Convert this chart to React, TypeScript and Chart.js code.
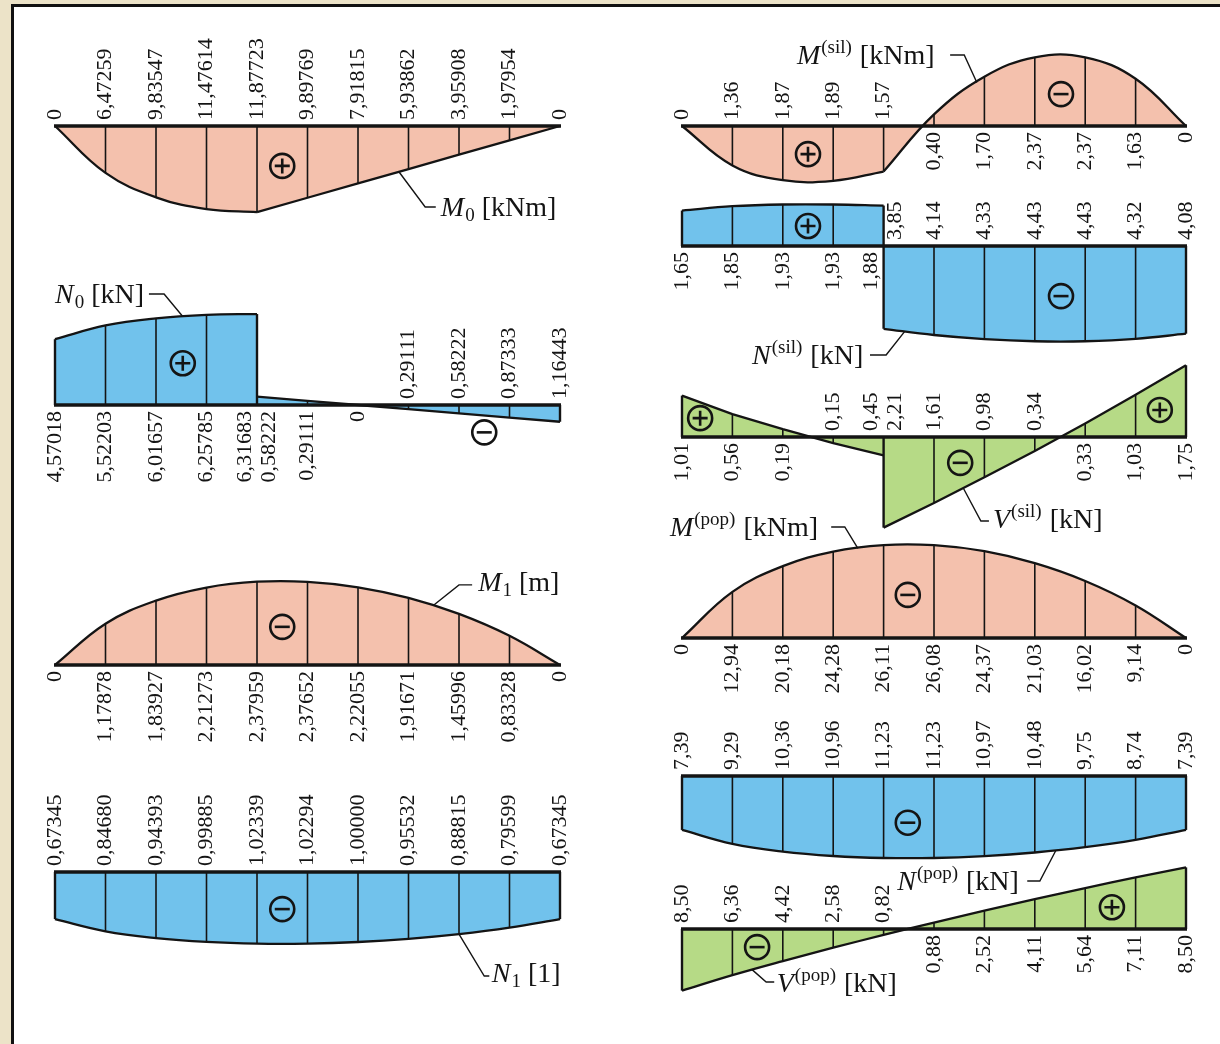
import React, { useEffect, useRef } from "react";
import { Chart, registerables } from "chart.js";

Chart.register(...registerables);

const W = 1220;
const H = 1044;

// ---------------- data ----------------
const STATIONS = [0, 1, 2, 3, 4, 5, 6, 7, 8, 9, 10];

// left column (5 decimals)
const M0_VALUES = [0, 6.47259, 9.83547, 11.47614, 11.87723, 9.89769, 7.91815, 5.93862, 3.95908, 1.97954, 0];
const N0_LEFT = [4.57018, 5.52203, 6.01657, 6.25785, 6.31683];
const N0_RIGHT = [0.58222, 0.29111, 0, -0.29111, -0.58222, -0.87333, -1.16443];
const M1_VALUES = [0, -1.17878, -1.83927, -2.21273, -2.37959, -2.37652, -2.22055, -1.91671, -1.45996, -0.83328, 0];
const N1_VALUES = [-0.67345, -0.8468, -0.94393, -0.99885, -1.02339, -1.02294, -1.0, -0.95532, -0.88815, -0.79599, -0.67345];

// right column (2 decimals)
const MSIL_VALUES = [0, 1.36, 1.87, 1.89, 1.57, -0.4, -1.7, -2.37, -2.37, -1.63, 0];
const NSIL_LEFT = [1.65, 1.85, 1.93, 1.93, 1.88];
const NSIL_RIGHT = [-3.85, -4.14, -4.33, -4.43, -4.43, -4.32, -4.08];
const VSIL_LEFT = [1.01, 0.56, 0.19, -0.15, -0.45];
const VSIL_RIGHT = [-2.21, -1.61, -0.98, -0.34, 0.33, 1.03, 1.75];
const MPOP_VALUES = [0, -12.94, -20.18, -24.28, -26.11, -26.08, -24.37, -21.03, -16.02, -9.14, 0];
const NPOP_VALUES = [-7.39, -9.29, -10.36, -10.96, -11.23, -11.23, -10.97, -10.48, -9.75, -8.74, -7.39];
const VPOP_VALUES = [-8.5, -6.36, -4.42, -2.58, -0.82, 0.88, 2.52, 4.11, 5.64, 7.11, 8.5];

// sign markers: [station, value, sign]
type Sign = [number, number, "+" | "-"];
const M0_SIGNS: Sign[] = [[4.5, 5.5, "+"]];
const N0_SIGNS: Sign[] = [[2.53, 2.9, "+"], [8.5, -1.9, "-"]];
const M1_SIGNS: Sign[] = [[4.5, -1.09, "-"]];
const N1_SIGNS: Sign[] = [[4.5, -0.53, "-"]];
const MSIL_SIGNS: Sign[] = [[2.5, 0.97, "+"], [7.52, -1.1, "-"]];
const NSIL_SIGNS: Sign[] = [[2.5, 0.93, "+"], [7.52, -2.33, "-"]];
const VSIL_SIGNS: Sign[] = [[0.36, 0.46, "+"], [5.52, -0.63, "-"], [9.48, 0.66, "+"]];
const MPOP_SIGNS: Sign[] = [[4.48, -12.1, "-"]];
const NPOP_SIGNS: Sign[] = [[4.48, -6.4, "-"]];
const VPOP_SIGNS: Sign[] = [[1.49, -2.5, "-"], [8.53, 3.0, "+"]];

// ---------------- styling / layout ----------------
const SERIF = '"Liberation Serif", "Times New Roman", serif';
const INK = "#141414";
const PINK = "#F4C1AD";
const BLUE = "#71C2EC";
const GREEN = "#B6DA86";
const BEIGE = "#ECE3C8";

const COLUMNS = { L: { x0: 55, dx: 50.5 }, R: { x0: 682, dx: 50.4 } };

type Part = { t: string; k?: "it" | "sub" | "sup" };
type Seg = { start: number; values: number[]; curve: boolean };
type Diagram = {
  id: string;
  col: "L" | "R";
  baseline: number;
  k: number;
  reverse: boolean;
  color: string;
  decimals: number;
  segs: Seg[];
  signs: Sign[];
  title: Part[];
  titleAt: [number, number];
  leader: [number, number][];
};

const DIAGRAMS: Diagram[] = [
  {
    id: "m0", col: "L", baseline: 126, k: 7.25, reverse: true, color: PINK, decimals: 5,
    segs: [
      { start: 0, values: M0_VALUES.slice(0, 5), curve: true },
      { start: 4, values: M0_VALUES.slice(4), curve: false },
    ],
    signs: M0_SIGNS,
    title: [{ t: "M", k: "it" }, { t: "0", k: "sub" }, { t: " [kNm]" }],
    titleAt: [7.64, 11.17],
    leader: [[6.81, 6.31], [7.33, 11.17], [7.54, 11.17]],
  },
  {
    id: "n0", col: "L", baseline: 405, k: 14.4, reverse: false, color: BLUE, decimals: 5,
    segs: [
      { start: 0, values: N0_LEFT, curve: true },
      { start: 4, values: N0_RIGHT, curve: false },
    ],
    signs: N0_SIGNS,
    title: [{ t: "N", k: "it" }, { t: "0", k: "sub" }, { t: " [kN]" }],
    titleAt: [0, 7.71],
    leader: [[1.86, 7.71], [2.16, 7.71], [2.53, 6.15]],
  },
  {
    id: "m1", col: "L", baseline: 665, k: 35, reverse: true, color: PINK, decimals: 5,
    segs: [{ start: 0, values: M1_VALUES, curve: true }],
    signs: M1_SIGNS,
    title: [{ t: "M", k: "it" }, { t: "1", k: "sub" }, { t: " [m]" }],
    titleAt: [8.38, -2.37],
    leader: [[7.49, -1.7], [8.0, -2.29], [8.26, -2.29]],
  },
  {
    id: "n1", col: "L", baseline: 872, k: 70, reverse: false, color: BLUE, decimals: 5,
    segs: [{ start: 0, values: N1_VALUES, curve: true }],
    signs: N1_SIGNS,
    title: [{ t: "N", k: "it" }, { t: "1", k: "sub" }, { t: " [1]" }],
    titleAt: [8.65, -1.443],
    leader: [[8.0, -0.888], [8.5, -1.486], [8.6, -1.486]],
  },
  {
    id: "msil", col: "R", baseline: 126, k: 29, reverse: true, color: PINK, decimals: 2,
    segs: [
      { start: 0, values: MSIL_VALUES.slice(0, 5), curve: true },
      { start: 4, values: MSIL_VALUES.slice(4), curve: true },
    ],
    signs: MSIL_SIGNS,
    title: [{ t: "M", k: "it" }, { t: "(sil)", k: "sup" }, { t: " [kNm]" }],
    titleAt: [2.28, -2.45],
    leader: [[5.32, -2.45], [5.6, -2.45], [5.85, -1.5]],
  },
  {
    id: "nsil", col: "R", baseline: 246, k: 21.5, reverse: false, color: BLUE, decimals: 2,
    segs: [
      { start: 0, values: NSIL_LEFT, curve: true },
      { start: 4, values: NSIL_RIGHT, curve: true },
    ],
    signs: NSIL_SIGNS,
    title: [{ t: "N", k: "it" }, { t: "(sil)", k: "sup" }, { t: " [kN]" }],
    titleAt: [1.39, -5.07],
    leader: [[3.73, -5.07], [4.05, -5.07], [4.42, -3.97]],
  },
  {
    id: "vsil", col: "R", baseline: 437, k: 41, reverse: false, color: GREEN, decimals: 2,
    segs: [
      { start: 0, values: VSIL_LEFT, curve: false },
      { start: 4, values: VSIL_RIGHT, curve: false },
    ],
    signs: VSIL_SIGNS,
    title: [{ t: "V", k: "it" }, { t: "(sil)", k: "sup" }, { t: " [kN]" }],
    titleAt: [6.17, -2.0],
    leader: [[5.58, -1.245], [5.93, -2.05], [6.09, -2.05]],
  },
  {
    id: "mpop", col: "R", baseline: 638, k: 3.56, reverse: true, color: PINK, decimals: 2,
    segs: [{ start: 0, values: MPOP_VALUES, curve: true }],
    signs: MPOP_SIGNS,
    title: [{ t: "M", k: "it" }, { t: "(pop)", k: "sup" }, { t: " [kNm]" }],
    titleAt: [-0.24, -31.2],
    leader: [[2.96, -31.2], [3.23, -31.2], [3.49, -25.18]],
  },
  {
    id: "npop", col: "R", baseline: 776, k: 7.3, reverse: false, color: BLUE, decimals: 2,
    segs: [{ start: 0, values: NPOP_VALUES, curve: true }],
    signs: NPOP_SIGNS,
    title: [{ t: "N", k: "it" }, { t: "(pop)", k: "sup" }, { t: " [kN]" }],
    titleAt: [4.27, -14.38],
    leader: [[6.85, -14.38], [7.1, -14.38], [7.42, -10.17]],
  },
  {
    id: "vpop", col: "R", baseline: 929, k: 7.25, reverse: false, color: GREEN, decimals: 2,
    segs: [{ start: 0, values: VPOP_VALUES, curve: true }],
    signs: VPOP_SIGNS,
    title: [{ t: "V", k: "it" }, { t: "(pop)", k: "sup" }, { t: " [kN]" }],
    titleAt: [1.88, -7.45],
    leader: [[1.39, -5.6], [1.67, -7.31], [1.83, -7.31]],
  },
];

const fmt = (v: number, d: number) => (v === 0 ? "0" : Math.abs(v).toFixed(d).replace(".", ","));

const paperPlugin = {
  id: "paper",
  beforeDraw(chart: any) {
    const c = chart.ctx;
    c.save();
    c.fillStyle = BEIGE;
    c.fillRect(0, 0, W, H);
    c.fillStyle = "#ffffff";
    c.fillRect(14, 7, W - 14, H - 7);
    c.fillStyle = "#111";
    c.fillRect(11, 4, 3, H - 4);
    c.fillRect(11, 4, W - 11, 3);
    c.restore();
  },
};

function drawTitle(ctx: CanvasRenderingContext2D, parts: Part[], x: number, yc: number) {
  const yb = yc + 9;
  let cx = x;
  ctx.textAlign = "left";
  ctx.textBaseline = "alphabetic";
  for (const p of parts) {
    const small = p.k === "sub" || p.k === "sup";
    ctx.font = `${p.k === "it" ? "italic " : ""}${small ? 19 : 28}px ${SERIF}`;
    const y = p.k === "sub" ? yb + 5 : p.k === "sup" ? yb - 11 : yb;
    ctx.fillText(p.t, cx, y);
    cx += ctx.measureText(p.t).width + (p.k === "it" ? 1 : p.k === "sup" ? 1 : 0);
  }
}

function drawSign(ctx: CanvasRenderingContext2D, x: number, y: number, plus: boolean) {
  ctx.lineWidth = 2.6;
  ctx.beginPath();
  ctx.arc(x, y, 12, 0, Math.PI * 2);
  ctx.stroke();
  ctx.beginPath();
  ctx.moveTo(x - 7.5, y);
  ctx.lineTo(x + 7.5, y);
  if (plus) {
    ctx.moveTo(x, y - 7.5);
    ctx.lineTo(x, y + 7.5);
  }
  ctx.stroke();
}

const annotatePlugin = {
  id: "annotate",
  afterDatasetsDraw(chart: any) {
    const ctx: CanvasRenderingContext2D = chart.ctx;
    ctx.save();
    ctx.strokeStyle = INK;
    ctx.fillStyle = INK;
    for (const d of DIAGRAMS) {
      const xs = chart.scales["x_" + d.id];
      const ys = chart.scales["y_" + d.id];
      const X = (s: number) => xs.getPixelForValue(s);
      const Y = (v: number) => ys.getPixelForValue(v);
      const B = Y(0);

      const st: number[] = [];
      const vals: number[][] = [];
      for (const seg of d.segs) {
        seg.values.forEach((v, i) => {
          const s = STATIONS[seg.start + i];
          let idx = st.indexOf(s);
          if (idx < 0) {
            st.push(s);
            vals.push([]);
            idx = st.length - 1;
          }
          const arr = vals[idx];
          if (arr.length === 0 || arr[arr.length - 1] !== v) arr.push(v);
        });
      }

      // ordinate lines
      ctx.lineCap = "butt";
      st.forEach((s, i) => {
        const ps = [B, ...vals[i].map(Y)];
        const top = Math.min(...ps);
        const bot = Math.max(...ps);
        if (bot - top < 0.5) return;
        const edge = i === 0 || i === st.length - 1 || vals[i].length > 1;
        ctx.lineWidth = edge ? 2.4 : 1.6;
        ctx.beginPath();
        ctx.moveTo(X(s), top);
        ctx.lineTo(X(s), bot);
        ctx.stroke();
      });

      // baseline
      ctx.lineWidth = 3.6;
      ctx.beginPath();
      ctx.moveTo(X(st[0]) - 1, B);
      ctx.lineTo(X(st[st.length - 1]) + 1, B);
      ctx.stroke();

      // value labels
      const refOf = (i: number, v: number) => {
        if (v !== 0) return v;
        for (let a = i - 1; a >= 0; a--) {
          const nz = vals[a].filter((x) => x !== 0);
          if (nz.length) return nz[nz.length - 1];
        }
        for (let a = i + 1; a < st.length; a++) {
          const nz = vals[a].filter((x) => x !== 0);
          if (nz.length) return nz[0];
        }
        return 1;
      };
      ctx.font = `22px ${SERIF}`;
      ctx.textBaseline = "middle";
      st.forEach((s, i) => {
        vals[i].forEach((v, j) => {
          const above = Y(refOf(i, v)) > B;
          const off = vals[i].length > 1 ? (j === 0 ? -12 : 12) : 0;
          ctx.save();
          ctx.translate(X(s) + off, above ? B - 6 : B + 6);
          ctx.rotate(-Math.PI / 2);
          ctx.textAlign = above ? "left" : "right";
          ctx.fillText(fmt(v, d.decimals), 0, 0);
          ctx.restore();
        });
      });

      // sign markers
      for (const [s, v, sg] of d.signs) drawSign(ctx, X(s), Y(v), sg === "+");

      // leader line
      ctx.lineWidth = 1.4;
      ctx.beginPath();
      d.leader.forEach(([s, v], i) => (i === 0 ? ctx.moveTo(X(s), Y(v)) : ctx.lineTo(X(s), Y(v))));
      ctx.stroke();

      // title
      drawTitle(ctx, d.title, X(d.titleAt[0]), Y(d.titleAt[1]));
    }
    ctx.restore();
  },
};

export default function App() {
  const ref = useRef<HTMLCanvasElement | null>(null);

  useEffect(() => {
    const canvas = ref.current;
    if (!canvas) return;
    const scales: any = {
      x: { type: "linear", display: false },
      y: { type: "linear", display: false },
    };
    const datasets: any[] = [];
    for (const d of DIAGRAMS) {
      const col = COLUMNS[d.col];
      scales["x_" + d.id] = {
        type: "linear",
        display: false,
        min: -col.x0 / col.dx,
        max: (W - col.x0) / col.dx,
      };
      scales["y_" + d.id] = d.reverse
        ? { type: "linear", display: false, reverse: true, min: -d.baseline / d.k, max: (H - d.baseline) / d.k }
        : { type: "linear", display: false, min: -(H - d.baseline) / d.k, max: d.baseline / d.k };
      for (const seg of d.segs) {
        datasets.push({
          data: seg.values.map((v, i) => ({ x: STATIONS[seg.start + i], y: v })),
          xAxisID: "x_" + d.id,
          yAxisID: "y_" + d.id,
          fill: { value: 0 },
          backgroundColor: d.color,
          borderColor: INK,
          borderWidth: 2.3,
          pointRadius: 0,
          cubicInterpolationMode: "default",
          tension: seg.curve ? 0.4 : 0,
          clip: false,
        });
      }
    }
    const chart = new Chart(canvas, {
      type: "line",
      data: { datasets },
      options: {
        responsive: false,
        animation: false,
        devicePixelRatio: 1,
        events: [],
        layout: { autoPadding: false, padding: 0 },
        plugins: { legend: { display: false }, tooltip: { enabled: false }, title: { display: false } },
        scales,
      } as any,
      plugins: [paperPlugin, annotatePlugin],
    });
    return () => chart.destroy();
  }, []);

  return (
    <div style={{ position: "absolute", left: 0, top: 0, width: W, height: H }}>
      <canvas ref={ref} width={W} height={H} style={{ display: "block", width: W, height: H }} />
    </div>
  );
}
